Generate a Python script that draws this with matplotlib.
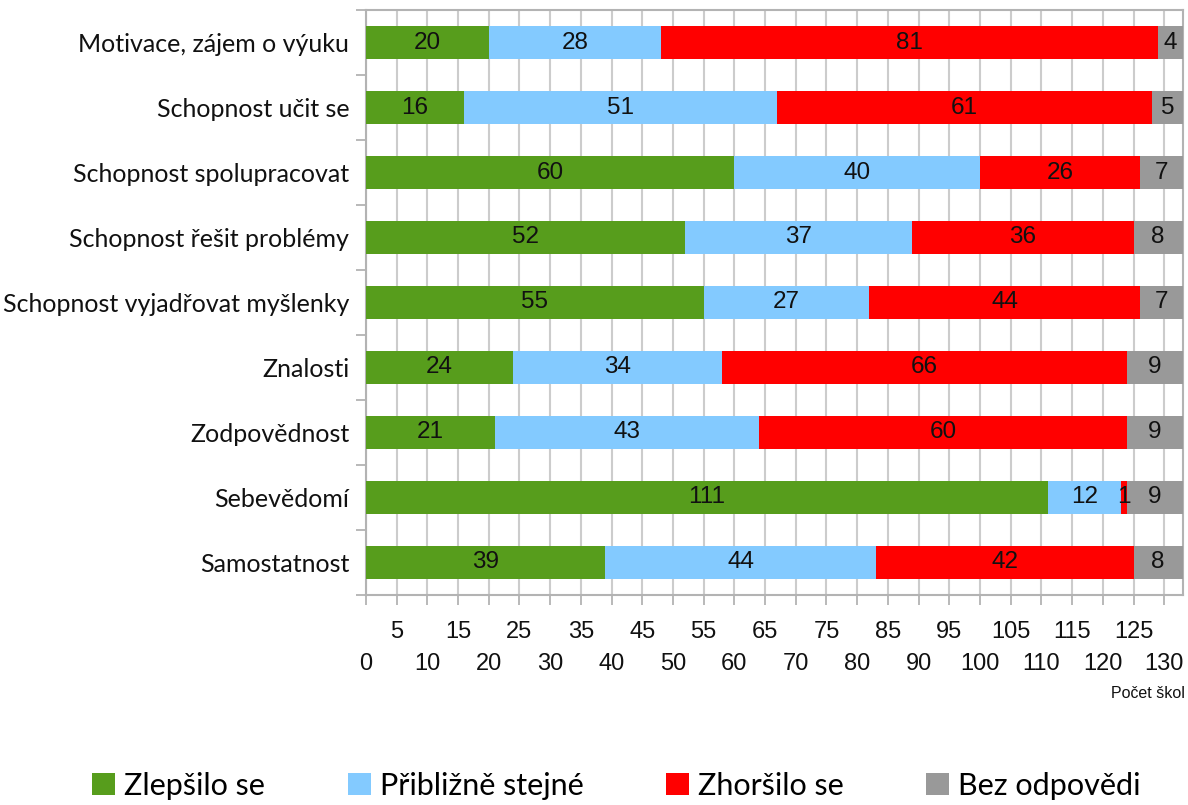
import numpy as np
import matplotlib.pyplot as plt

# data
categories = ["Motivace, zájem o výuku", "Schopnost učit se", "Schopnost spolupracovat",
              "Schopnost řešit problémy", "Schopnost vyjadřovat myšlenky", "Znalosti",
              "Zodpovědnost", "Sebevědomí", "Samostatnost"]
zlepsilo = [20, 16, 60, 52, 55, 24, 21, 111, 39]
stejne = [28, 51, 40, 37, 27, 34, 43, 12, 44]
zhorsilo = [81, 61, 26, 36, 44, 66, 60, 1, 42]
bez = [4, 5, 7, 8, 7, 9, 9, 9, 8]
series_names = ["Zlepšilo se", "Přibližně stejné", "Zhoršilo se", "Bez odpovědi"]
colors = ["#579d1c", "#83caff", "#ff0000", "#999999"]

label_font = ["Lato", "DejaVu Sans"]
num_font = ["Liberation Sans", "DejaVu Sans"]

fig = plt.figure(figsize=(11.88, 8.05), dpi=100)
ax = fig.add_axes([0.308, 0.261, 0.6875, 0.7265])

y = np.arange(len(categories))
left = np.zeros(len(categories))
for vals, name, c in zip([zlepsilo, stejne, zhorsilo, bez], series_names, colors):
    bars = ax.barh(y, vals, left=left, height=0.52, color=c, label=name, zorder=3)
    for b, v in zip(bars, vals):
        ax.text(b.get_x() + b.get_width() / 2, b.get_y() + b.get_height() / 2, str(v),
                ha="center", va="center", fontsize=17.5, family=num_font, color="#111111", zorder=4)
    left += np.array(vals)

ax.set_xlim(0, 133)
ax.set_ylim(len(categories) - 0.5, -0.5)

# x ticks: two rows (even below, odd above)
ax.set_xticks(np.arange(0, 131, 10))
ax.set_xticklabels([str(v) for v in range(0, 131, 10)])
ax.set_xticks(np.arange(5, 130, 10), minor=True)
ax.set_xticklabels([str(v) for v in range(5, 130, 10)], minor=True)
ax.tick_params(axis="x", which="major", length=7, width=1.3, color="#b3b3b3", pad=35,
               labelsize=17, labelcolor="#111111")
ax.tick_params(axis="x", which="minor", length=7, width=1.3, color="#b3b3b3", pad=12,
               labelsize=17, labelcolor="#111111")
for t in ax.get_xticklabels(which="both"):
    t.set_family(num_font)

# y ticks: labels at centres, marks at boundaries
ax.set_yticks(y)
ax.set_yticklabels(categories)
ax.set_yticks(np.arange(-0.5, len(categories), 1), minor=True)
ax.tick_params(axis="y", which="major", length=0, pad=12, labelsize=18, labelcolor="#111111")
ax.tick_params(axis="y", which="minor", length=7, width=1.3, color="#b3b3b3")
for t in ax.get_yticklabels():
    t.set_family(label_font)

ax.grid(axis="x", which="both", color="#cccccc", linewidth=1.5, zorder=0)
for s in ax.spines.values():
    s.set_color("#b3b3b3")
    s.set_linewidth(1.5)

fig.text(0.966, 0.139, "Počet škol", ha="center", va="center", fontsize=11.5,
         family=num_font, color="#111111")

handles, labels = ax.get_legend_handles_labels()
leg = fig.legend(handles, labels, loc="center", bbox_to_anchor=(0.519, 0.024), ncol=4,
                 frameon=False, handlelength=0.75, handleheight=0.75, handletextpad=0.3,
                 columnspacing=2.7, prop={"family": label_font, "size": 22})

fig.savefig("out.png", dpi=100)
